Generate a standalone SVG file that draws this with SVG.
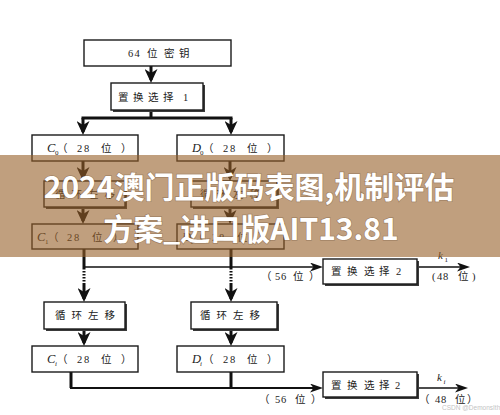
<svg xmlns="http://www.w3.org/2000/svg" width="500" height="415" viewBox="0 0 500 415">
<style>
.box{fill:#fff;stroke:#1a1a1a;stroke-width:1.4}
.sh{fill:#3a3a3a}
.t{font-family:"Liberation Serif","Noto Sans CJK SC",serif;font-size:10.5px;fill:#222}
.it{font-family:"Liberation Serif",serif;font-style:italic;font-size:12.5px;fill:#222}
.sub{font-family:"Liberation Serif",serif;font-style:italic;font-size:7px;fill:#222}
.th{fill:none;stroke:#111;stroke-width:3}
.tn{fill:none;stroke:#111;stroke-width:1.6}
.ban{font-family:"Noto Sans CJK SC",sans-serif;font-weight:700;font-size:30px;fill:#fff;text-anchor:middle;stroke:rgba(60,40,20,0.25);stroke-width:1.5px;paint-order:stroke}
</style>
<defs>
<marker id="ah" markerUnits="userSpaceOnUse" markerWidth="14" markerHeight="13" refX="11" refY="6.5" orient="auto"><path d="M0,0 L14,6.5 L0,13 L4,6.5 z" fill="#111"/></marker>
<marker id="as" markerUnits="userSpaceOnUse" markerWidth="13" markerHeight="9" refX="10" refY="4.5" orient="auto"><path d="M0,0 L13,4.5 L0,9 L3.5,4.5 z" fill="#111"/></marker>
</defs>
<rect width="500" height="415" fill="#fff"/>

<g id="connectors">
<line class="th" x1="151" y1="66" x2="151" y2="80" marker-end="url(#ah)"/>
<line class="th" x1="151" y1="110" x2="151" y2="118"/>
<line class="th" x1="83" y1="118" x2="231" y2="118" stroke-linecap="square"/>
<line class="th" x1="83" y1="118" x2="83" y2="132" marker-end="url(#ah)"/>
<line class="th" x1="231" y1="118" x2="231" y2="132" marker-end="url(#ah)"/>
<line class="th" x1="83" y1="161" x2="83" y2="178" marker-end="url(#ah)"/>
<line class="th" x1="230" y1="161" x2="230" y2="178" marker-end="url(#ah)"/>
<line class="th" x1="83" y1="207" x2="83" y2="221" marker-end="url(#ah)"/>
<line class="th" x1="230" y1="207" x2="230" y2="221" marker-end="url(#ah)"/>
<line class="th" x1="84" y1="249" x2="84" y2="268"/>
<line class="th" x1="84" y1="268" x2="84" y2="283" stroke-dasharray="1.5 1.5"/>
<line class="th" x1="84" y1="283" x2="84" y2="299" marker-end="url(#ah)"/>
<line class="th" x1="231" y1="249" x2="231" y2="268"/>
<line class="th" x1="231" y1="268" x2="231" y2="283" stroke-dasharray="1.5 1.5"/>
<line class="th" x1="231" y1="283" x2="231" y2="299" marker-end="url(#ah)"/>
<line class="tn" x1="84" y1="267" x2="320" y2="267" marker-end="url(#as)"/>
<line class="tn" x1="417" y1="267" x2="467" y2="267" marker-end="url(#as)"/>
<line class="th" x1="84" y1="329" x2="84" y2="343" marker-end="url(#ah)"/>
<line class="th" x1="231" y1="329" x2="231" y2="343" marker-end="url(#ah)"/>
<line class="th" x1="71" y1="372" x2="71" y2="388"/>
<line class="th" x1="231" y1="372" x2="231" y2="388"/>
<line class="tn" style="stroke-width:2.2" x1="70" y1="388" x2="320" y2="388" marker-end="url(#as)"/>
<line class="tn" x1="417" y1="388" x2="465" y2="388" marker-end="url(#as)"/>
</g>

<g id="lbl56a"><text class="t" x="261 275 281 293 309" y="280">（56位）</text></g>
<g id="k1"><text class="it" x="438" y="259" style="font-size:11px">k</text><text class="sub" x="444.5" y="262" style="font-style:normal">1</text></g>
<g id="lbl48a"><text class="t" x="432 437 443 458 472" y="280">(48位)</text></g>
<g id="lbl56b"><text class="t" x="259 275 281 295 311" y="403">（56位）</text></g>
<g id="ki"><text class="it" x="437" y="381" style="font-size:11px">k</text><text class="sub" x="443.5" y="384">i</text></g>
<g id="lbl48b"><text class="t" x="419 435 441 455 467" y="403">（48位）</text></g>

<g id="key"><rect class="box" x="84" y="40" width="147" height="26"/><text class="t" x="128 134.5 147 164 179" y="57">64位密钥</text></g>
<g id="pc1"><rect class="sh" x="113" y="85" width="92" height="27"/><rect class="box" x="111" y="83" width="92" height="27"/><text class="t" x="118 133 148 163 183" y="101">置换选择1</text></g>

<g id="c0"><rect class="box" x="32" y="135" width="106" height="26"/><text class="it" x="47" y="152">C</text><text class="sub" x="55" y="155" style="font-style:normal">0</text><text class="t" x="57 77 84 101 121" y="152">（28位）</text></g>
<g id="d0"><rect class="box" x="177" y="135" width="107" height="26"/><text class="it" x="192" y="152">D</text><text class="sub" x="200" y="155" style="font-style:normal">0</text><text class="t" x="203 223 230 247 267" y="152">（28位）</text></g>

<g id="ls1c"><rect class="sh" x="46" y="183" width="81" height="26"/><rect class="box" x="44" y="181" width="81" height="26"/><text class="t" x="55 71.5 88 104.5" y="198">循环左移</text></g>
<g id="ls1d"><rect class="sh" x="193" y="183" width="86" height="26"/><rect class="box" x="191" y="181" width="86" height="26"/><text class="t" x="200 216.5 233 249.5" y="198">循环左移</text></g>

<g id="c1"><rect class="box" x="32" y="224" width="106" height="25"/><text class="it" x="37" y="241">C</text><text class="sub" x="45" y="244" style="font-style:normal">1</text><text class="t" x="48 67 74 92 113" y="241">（28位）</text></g>
<g id="d1"><rect class="box" x="177" y="224" width="107" height="25"/><text class="it" x="182" y="241">D</text><text class="sub" x="190" y="244" style="font-style:normal">1</text><text class="t" x="193 212 219 237 258" y="241">（28位）</text></g>

<g id="pc2a"><rect class="sh" x="325" y="261" width="94" height="25"/><rect class="box" x="323" y="259" width="94" height="25"/><text class="t" x="331 347 364 379 396" y="275">置换选择2</text></g>

<g id="lsic"><rect class="sh" x="46" y="304" width="81" height="27"/><rect class="box" x="44" y="302" width="81" height="27"/><text class="t" x="55 71.5 88 104.5" y="319">循环左移</text></g>
<g id="lsid"><rect class="sh" x="193" y="304" width="86" height="27"/><rect class="box" x="191" y="302" width="86" height="27"/><text class="t" x="200 216.5 233 249.5" y="319">循环左移</text></g>

<g id="ci"><rect class="box" x="32" y="346" width="106" height="26"/><text class="it" x="47" y="363">C</text><text class="sub" x="55" y="366">i</text><text class="t" x="57 77 84 101 121" y="363">（28位）</text></g>
<g id="di"><rect class="box" x="177" y="346" width="107" height="26"/><text class="it" x="192" y="363">D</text><text class="sub" x="200" y="366">i</text><text class="t" x="203 223 230 247 267" y="363">（28位）</text></g>

<g id="pc2b"><rect class="sh" x="325" y="374" width="94" height="25"/><rect class="box" x="323" y="372" width="94" height="25"/><text class="t" x="331 347 364 379 395" y="389">置换选择2</text></g>

<g id="watermark"><text x="442" y="410" style="font-family:'Liberation Sans',sans-serif;font-size:6.5px;fill:#c4c4c4">CSDN @DemonsIth</text></g>

<g id="banner">
<rect x="0" y="155" width="500" height="102" fill="rgb(150,95,40)" opacity="0.6"/>
<text class="ban" x="249" y="198">2024澳门正版码表图,机制评估</text>
<text class="ban" x="251" y="240">方案_进口版AIT13.81</text>
</g>
</svg>
